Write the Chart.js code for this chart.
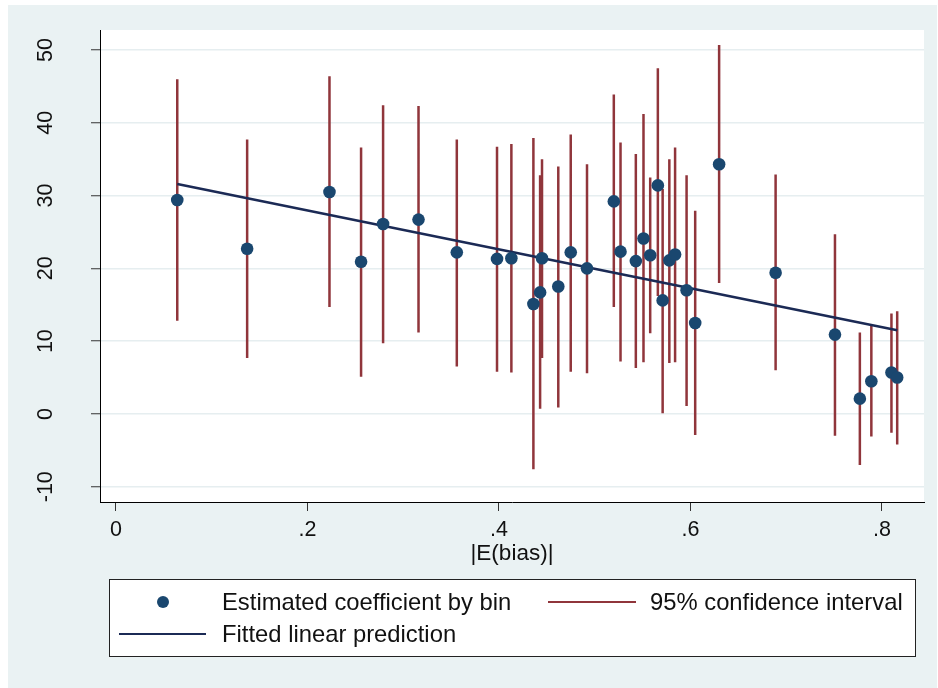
<!DOCTYPE html>
<html>
<head>
<meta charset="utf-8">
<script src="https://cdn.jsdelivr.net/npm/chart.js@4/dist/chart.umd.min.js"></script>
<style>
  html, body { margin: 0; padding: 0; background: #ffffff; }
  #wrap { width: 938px; height: 688px; position: relative; }
</style>
</head>
<body>
<div id="wrap"><canvas id="c" width="938" height="688"></canvas></div>
<script>
// ---- data ----
const binX   = [0.064,0.137,0.223,0.256,0.279,0.316,0.356,0.398,0.413,0.436,0.443,0.445,0.462,0.475,0.492,0.520,0.527,0.543,0.551,0.558,0.566,0.571,0.578,0.584,0.596,0.605,0.630,0.689,0.751,0.777,0.789,0.810,0.816];
const coef   = [29.4,22.7,30.5,20.9,26.1,26.7,22.2,21.3,21.4,15.1,16.7,21.4,17.5,22.2,20.0,29.2,22.3,21.0,24.1,21.8,31.4,15.6,21.1,21.9,17.0,12.5,34.3,19.4,10.9,2.1,4.5,5.7,5.0];
const ciLow  = [12.8,7.7,14.7,5.1,9.7,11.2,6.5,5.8,5.7,-7.6,0.7,7.7,0.9,5.8,5.6,14.7,7.2,6.3,7.1,11.1,16.2,0.1,7.0,7.1,1.1,-2.9,18.0,6.0,-3.0,-7.0,-3.1,-2.6,-4.2];
const ciHigh = [46.0,37.7,46.4,36.6,42.4,42.3,37.7,36.7,37.1,37.9,32.8,35.0,34.0,38.4,34.3,43.9,37.3,35.7,41.2,32.5,47.5,30.9,35.0,36.6,32.8,27.9,50.7,32.9,24.7,11.2,12.1,13.8,14.1];
const fitX   = [0.064, 0.816];
const fitY   = [31.6, 11.5];
const xTickValues = [0, 0.2, 0.4, 0.6, 0.8];
const yTickValues = [-10, 0, 10, 20, 30, 40, 50];
const seriesLabels = ["Estimated coefficient by bin", "Fitted linear prediction", "95% confidence interval"];
const xTitle = "|E(bias)|";

// ---- styles ----
const FONT = "'Liberation Sans', Arial, Helvetica, sans-serif";
const C_DOT = '#1a476f';
const C_CI = '#90353b';
const C_FIT = '#1b2a55';
const C_BG = '#eaf2f3';

const dotData = binX.map((x, i) => ({ x: x, y: coef[i] }));
const ciData = [];
binX.forEach((x, i) => {
  ciData.push({ x: x, y: ciLow[i] });
  ciData.push({ x: x, y: ciHigh[i] });
  ciData.push({ x: x, y: null });
});
const fitData = fitX.map((x, i) => ({ x: x, y: fitY[i] }));

function fmtX(v) {
  if (Math.abs(v) < 1e-9) return '0';
  return String(Math.round(v * 10) / 10).replace(/^0\./, '.').replace(/^-0\./, '-.');
}

const bgPlugin = {
  id: 'bg',
  beforeDraw(chart) {
    const ctx = chart.ctx, a = chart.chartArea;
    ctx.save();
    ctx.fillStyle = '#ffffff';
    ctx.fillRect(0, 0, chart.width, chart.height);
    ctx.fillStyle = C_BG;
    ctx.fillRect(8, 5, 929, 683);
    ctx.fillStyle = '#ffffff';
    ctx.fillRect(a.left, a.top, a.right - a.left, a.bottom - a.top);
    ctx.restore();
  },
  afterDraw(chart) {
    const ctx = chart.ctx;
    const ys = chart.scales.y;
    // rotated y tick labels
    ctx.save();
    ctx.fillStyle = '#111';
    ctx.font = '21.5px ' + FONT;
    ctx.textAlign = 'center';
    ctx.textBaseline = 'middle';
    ys.ticks.forEach(t => {
      const py = ys.getPixelForValue(t.value);
      ctx.save();
      ctx.translate(46, py);
      ctx.rotate(-Math.PI / 2);
      ctx.fillText(t.label, 0, 0);
      ctx.restore();
    });
    ctx.restore();

    // legend box
    const ds = chart.data.datasets;
    ctx.save();
    ctx.fillStyle = '#ffffff';
    ctx.fillRect(109, 579, 807, 77);
    ctx.strokeStyle = '#222';
    ctx.lineWidth = 1;
    ctx.strokeRect(109.5, 579.5, 806, 77);
    ctx.font = '23.8px ' + FONT;
    ctx.fillStyle = '#111';
    ctx.textAlign = 'left';
    ctx.textBaseline = 'middle';
    // dot entry
    ctx.beginPath();
    ctx.fillStyle = ds[0].backgroundColor;
    ctx.arc(163, 602, 6, 0, Math.PI * 2);
    ctx.fill();
    ctx.fillStyle = '#111';
    ctx.fillText(ds[0].label, 222, 603);
    // CI entry
    ctx.strokeStyle = ds[2].borderColor;
    ctx.lineWidth = 2;
    ctx.beginPath(); ctx.moveTo(548, 602); ctx.lineTo(636, 602); ctx.stroke();
    ctx.fillText(ds[2].label, 650, 603);
    // fit entry
    ctx.strokeStyle = ds[1].borderColor;
    ctx.beginPath(); ctx.moveTo(119, 634); ctx.lineTo(206, 634); ctx.stroke();
    ctx.fillText(ds[1].label, 222, 635);
    ctx.restore();
  }
};

new Chart(document.getElementById('c'), {
  type: 'scatter',
  data: {
    datasets: [
      { label: seriesLabels[0], data: dotData, backgroundColor: C_DOT, borderWidth: 0,
        pointRadius: 6.3, pointHoverRadius: 6.3, showLine: false },
      { label: seriesLabels[1], data: fitData, borderColor: C_FIT, borderWidth: 2.6,
        pointRadius: 0, showLine: true, fill: false },
      { label: seriesLabels[2], data: ciData, borderColor: C_CI, borderWidth: 2.5,
        pointRadius: 0, showLine: true, spanGaps: false, fill: false }
    ]
  },
  options: {
    responsive: false,
    devicePixelRatio: 1,
    animation: false,
    layout: { padding: { left: 0, top: 30, right: 14, bottom: 0 } },
    plugins: { legend: { display: false }, tooltip: { enabled: false } },
    scales: {
      x: {
        type: 'linear',
        min: -0.0167, max: 0.844,
        afterBuildTicks(s) { s.ticks = xTickValues.map(v => ({ value: v })); },
        afterFit(s) { s.height = 186; },
        grid: { drawOnChartArea: false, drawTicks: true, tickLength: 9, tickColor: '#333', tickWidth: 1 },
        border: { display: true, color: '#000', width: 1 },
        ticks: { color: '#111', font: { family: FONT, size: 21.5 }, padding: 6,
                 maxRotation: 0, minRotation: 0, callback: v => fmtX(v) },
        title: { display: true, text: xTitle, color: '#111',
                 font: { family: FONT, size: 22.5 }, padding: { top: 0, bottom: 121 } }
      },
      y: {
        type: 'linear',
        min: -12.1, max: 52.75,
        afterBuildTicks(s) { s.ticks = yTickValues.map(v => ({ value: v })); },
        afterFit(s) { s.width = 100; },
        grid: { drawOnChartArea: true, color: '#e6eef0', lineWidth: 1.5,
                drawTicks: true, tickLength: 9, tickColor: '#333', tickWidth: 1 },
        border: { display: true, color: '#000', width: 1 },
        ticks: { display: false, callback: v => String(v) }
      }
    }
  },
  plugins: [bgPlugin]
});
</script>
</body>
</html>
